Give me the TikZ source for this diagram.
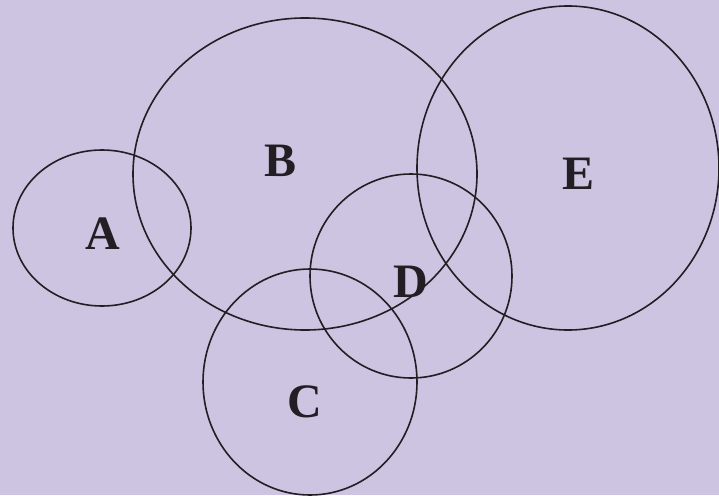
\documentclass[tikz,border=0pt]{standalone}
\usepackage{fontspec}
\setmainfont{Liberation Serif}
\definecolor{lavender}{RGB}{204,196,224}
\definecolor{inkline}{RGB}{35,30,35}
\tikzset{
  setline/.style={draw=inkline, line width=1.6pt},
  setname/.style={text=inkline, font=\fontsize{48}{48}\selectfont\bfseries, inner sep=0pt}
}
\begin{document}
\begin{tikzpicture}[x=1pt, y=-1pt]
    % Background
    \fill[lavender] (0,0) rectangle (719,495);
    \useasboundingbox (0,0) rectangle (719,495);

    % Sets
    \draw[setline] (102,228) ellipse [x radius=89, y radius=78];
    \draw[setline] (305,174) ellipse [x radius=172, y radius=156];
    \draw[setline] (310,382) ellipse [x radius=107, y radius=113];
    \draw[setline] (411,276) ellipse [x radius=101, y radius=102];
    \draw[setline] (568,168) ellipse [x radius=151, y radius=162];

    % Set labels
    \node[setname] (lblA) at (103,234) {A};
    \node[setname] (lblB) at (281,161) {B};
    \node[setname] (lblC) at (305,402) {C};
    \node[setname] (lblD) at (411,282) {D};
    \node[setname] (lblE) at (578,174) {E};
\end{tikzpicture}
\end{document}
